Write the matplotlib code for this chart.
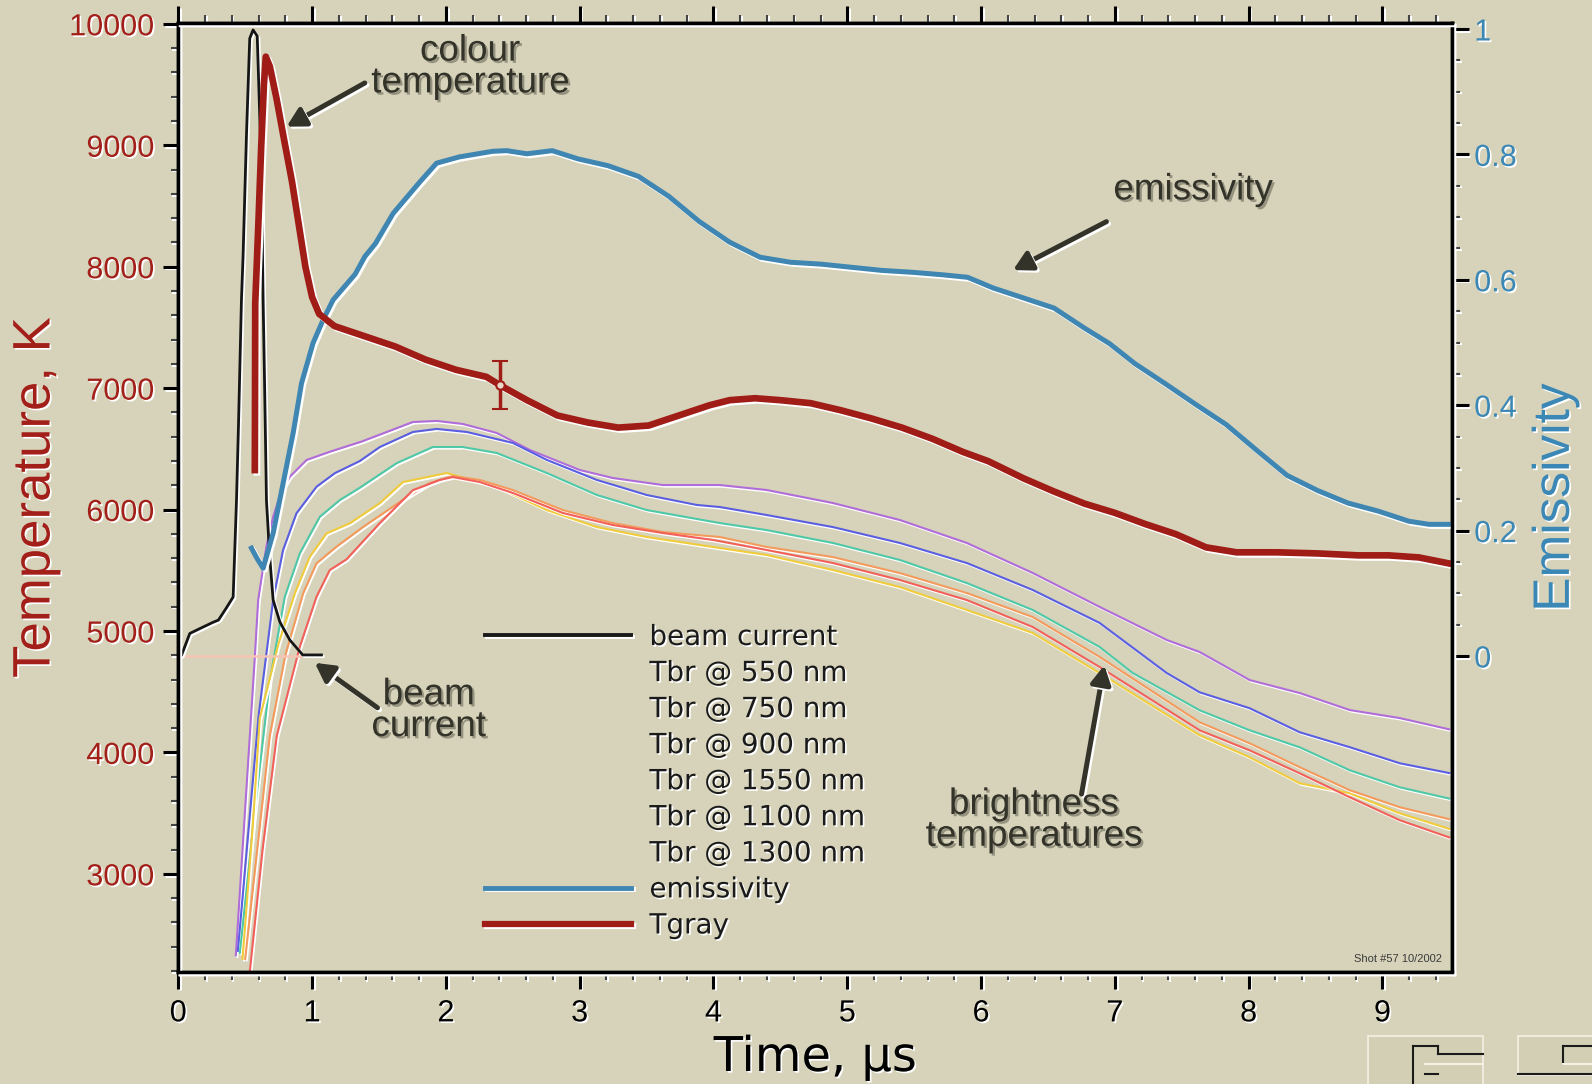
import matplotlib
matplotlib.use("Agg")
import matplotlib.pyplot as plt
import matplotlib.patheffects as pe
from matplotlib.lines import Line2D
from matplotlib.patches import Rectangle
from matplotlib.ticker import MultipleLocator, FixedLocator

# ---------------- data ----------------
t_beam = [0.0, 0.024, 0.086, 0.18, 0.258, 0.30, 0.362, 0.41, 0.435, 0.45,
          0.472, 0.484, 0.51, 0.534, 0.559, 0.59, 0.605, 0.62, 0.634, 0.647,
          0.659, 0.684, 0.709, 0.759, 0.833, 0.93, 1.07]
T_beam = [4790, 4800, 4980, 5030, 5071, 5090, 5195, 5280, 6075, 6700,
          7726, 8083, 9100, 9880, 9950, 9900, 9373, 8824, 7726, 6900,
          6075, 5600, 5255, 5075, 4927, 4803, 4803]
t_base = [0.0, 0.93]
T_base = [4798, 4798]

t_gray = [0.572, 0.575, 0.60, 0.62, 0.64, 0.654, 0.684, 0.735, 0.79, 0.85,
          0.90, 0.95, 1.0, 1.053, 1.167, 1.394, 1.621, 1.848, 2.076, 2.303,
          2.402, 2.606, 2.833, 3.061, 3.288, 3.515, 3.742, 3.97, 4.121, 4.311,
          4.5, 4.727, 4.955, 5.182, 5.409, 5.636, 5.864, 6.053, 6.318, 6.545,
          6.773, 7.0, 7.227, 7.455, 7.682, 7.909, 8.212, 8.515, 8.818, 9.045,
          9.273, 9.5]
T_gray = [6325, 7700, 8400, 9000, 9500, 9730, 9650, 9380, 9050, 8700,
          8350, 8000, 7750, 7611, 7511, 7427, 7343, 7235, 7151, 7093,
          7026, 6901, 6775, 6717, 6675, 6692, 6775, 6859, 6901, 6917,
          6901, 6876, 6817, 6750, 6675, 6583, 6475, 6399, 6257, 6149,
          6049, 5973, 5881, 5798, 5689, 5648, 5648, 5639, 5623, 5623,
          5606, 5556]
err_t = [2.402]
err_T = [7026]
err_dT = [200]

t_emis = [0.547, 0.59, 0.634, 0.709, 0.783, 0.858, 0.921, 1.007, 1.082, 1.157,
          1.322, 1.394, 1.474, 1.606, 1.805, 1.93, 2.1, 2.35, 2.455, 2.606,
          2.795, 2.985, 3.212, 3.439, 3.667, 3.894, 4.121, 4.348, 4.576, 4.803,
          5.03, 5.258, 5.485, 5.712, 5.9, 6.09, 6.318, 6.545, 6.773, 6.962,
          7.152, 7.379, 7.606, 7.833, 8.061, 8.288, 8.515, 8.742, 8.97, 9.197,
          9.348, 9.5]
emis = [0.172, 0.155, 0.140, 0.196, 0.275, 0.355, 0.435, 0.499, 0.536, 0.568,
        0.609, 0.637, 0.658, 0.706, 0.756, 0.786, 0.796, 0.805, 0.806, 0.801,
        0.806, 0.793, 0.782, 0.765, 0.733, 0.693, 0.66, 0.636, 0.628, 0.625,
        0.62, 0.615, 0.612, 0.608, 0.604, 0.587, 0.571, 0.555, 0.523, 0.498,
        0.466, 0.434, 0.401, 0.369, 0.328, 0.288, 0.264, 0.244, 0.231, 0.215,
        0.21, 0.21]

t_550 = [0.43, 0.50, 0.57, 0.597, 0.659, 0.709, 0.77, 0.833, 0.958, 1.132,
         1.37, 1.753, 1.932, 2.126, 2.38, 2.627, 3.0, 3.247, 3.621, 4.047,
         4.398, 4.892, 5.393, 5.893, 6.386, 6.887, 7.388, 7.634, 8.008, 8.382,
         8.756, 9.129, 9.5]
T_550 = [2330, 3540, 4750, 5255, 5700, 5941, 6150, 6270, 6408, 6476,
         6560, 6721, 6730, 6705, 6631, 6491, 6326, 6260, 6202, 6202,
         6161, 6054, 5914, 5725, 5478, 5198, 4926, 4827, 4596, 4489,
         4349, 4283, 4190]

t_750 = [0.445, 0.52, 0.60, 0.709, 0.783, 0.883, 1.033, 1.17, 1.357, 1.506,
         1.753, 1.932, 2.156, 2.5, 2.754, 3.128, 3.501, 3.875, 4.047, 4.398,
         4.892, 5.393, 5.893, 6.386, 6.887, 7.388, 7.634, 8.008, 8.382, 8.756,
         9.129, 9.5]
T_750 = [2366, 3300, 4300, 5255, 5666, 5969, 6188, 6300, 6400, 6515,
         6639, 6664, 6639, 6549, 6409, 6244, 6120, 6038, 6021, 5955,
         5856, 5725, 5560, 5338, 5066, 4654, 4495, 4364, 4166, 4043,
         3911, 3830]

t_900 = [0.46, 0.58, 0.684, 0.796, 0.908, 1.058, 1.207, 1.357, 1.633, 1.902,
         2.126, 2.38, 2.754, 3.128, 3.501, 4.047, 4.398, 4.892, 5.393, 5.893,
         6.386, 6.887, 7.134, 7.634, 8.008, 8.382, 8.756, 9.129, 9.5]
T_900 = [2350, 3600, 4589, 5282, 5639, 5941, 6078, 6180, 6383, 6515,
         6515, 6466, 6301, 6120, 5996, 5889, 5831, 5725, 5585, 5395,
         5173, 4868, 4654, 4347, 4182, 4042, 3853, 3713, 3620]

t_1550 = [0.48, 0.557, 0.609, 0.75, 0.871, 0.983, 1.108, 1.282, 1.506, 1.678,
          2.007, 2.38, 2.754, 3.128, 3.501, 3.995, 4.398, 4.892, 5.393, 5.893,
          6.386, 6.887, 7.634, 8.008, 8.382, 8.756, 9.129, 9.5]
T_1550 = [2300, 3400, 4282, 4900, 5310, 5612, 5804, 5887, 6053, 6226,
          6301, 6186, 5996, 5856, 5774, 5692, 5626, 5502, 5362, 5173,
          4984, 4654, 4141, 3960, 3746, 3664, 3499, 3370]

t_1100 = [0.50, 0.60, 0.684, 0.80, 0.933, 1.033, 1.182, 1.379, 1.708, 1.88,
          2.051, 2.253, 2.5, 2.874, 3.247, 3.621, 4.047, 4.398, 4.892, 5.393,
          5.893, 6.386, 6.887, 7.634, 8.008, 8.382, 8.756, 9.129, 9.5]
T_1100 = [2300, 3300, 4137, 4800, 5310, 5557, 5694, 5855, 6102, 6218,
          6276, 6244, 6161, 5996, 5889, 5815, 5774, 5692, 5609, 5477,
          5313, 5115, 4786, 4248, 4075, 3878, 3689, 3549, 3450]

t_1300 = [0.534, 0.63, 0.736, 0.908, 1.033, 1.132, 1.257, 1.506, 1.753, 1.955,
          2.051, 2.253, 2.5, 2.874, 3.247, 3.621, 3.995, 4.398, 4.892, 5.393,
          5.893, 6.386, 6.887, 7.634, 8.008, 8.382, 8.756, 9.129, 9.5]
T_1300 = [2190, 3200, 4137, 4870, 5282, 5502, 5590, 5888, 6160, 6244,
          6268, 6227, 6137, 5972, 5873, 5807, 5750, 5667, 5560, 5420,
          5255, 5033, 4703, 4182, 4017, 3828, 3631, 3442, 3300]

tbr_series = [
    ("Tbr @ 550 nm", t_550, T_550, "#b06cd8"),
    ("Tbr @ 750 nm", t_750, T_750, "#5a5ee0"),
    ("Tbr @ 900 nm", t_900, T_900, "#4ec8a6"),
    ("Tbr @ 1550 nm", t_1550, T_1550, "#f0cc3c"),
    ("Tbr @ 1100 nm", t_1100, T_1100, "#f39a5c"),
    ("Tbr @ 1300 nm", t_1300, T_1300, "#f2605a"),
]

x_ticks = [0, 1, 2, 3, 4, 5, 6, 7, 8, 9]
T_ticks = [3000, 4000, 5000, 6000, 7000, 8000, 9000, 10000]
e_ticks = [0, 0.2, 0.4, 0.6, 0.8, 1.0]
e_tick_labels = ["0", "0.2", "0.4", "0.6", "0.8", "1"]

# ---------------- style ----------------
BG = "#d6d3ba"
RED = "#a01c16"
TRED = "#a3201a"
BLUE = "#3f86b2"
TBLUE = "#3b87b5"
INK = "#34332a"
SANS = ["Liberation Sans", "DejaVu Sans"]
LEG = ["DejaVu Sans"]

W, H = 1592, 1084


def fx(px):
    return px / W


def fy(py):
    return 1 - py / H


def lsh(o=1.3):
    return [pe.SimpleLineShadow(offset=(o, -o), shadow_color="white", alpha=1.0), pe.Normal()]


tsh = [pe.withSimplePatchShadow(offset=(1.2, -1.2), shadow_rgbFace="white", alpha=1.0)]
dsh = [pe.withSimplePatchShadow(offset=(1.6, -1.6), shadow_rgbFace="#1e1d14", alpha=0.35)]

fig = plt.figure(figsize=(W / 100, H / 100), dpi=100)
fig.patch.set_facecolor(BG)

ax = fig.add_axes([fx(178.3), fy(972), fx(1452) - fx(178.3), (972 - 23) / H])
ax.set_facecolor(BG)
ax2 = ax.twinx()

# Tbr lines
for lab, tt, TT, col in tbr_series:
    ax.plot(tt, TT, color=col, lw=1.5, zorder=2, path_effects=lsh(1.1))

# beam current
ax.plot(t_base, T_base, color="#f6c4b4", lw=1.8, zorder=2)
ax.plot(t_beam, T_beam, color="#151515", lw=2.0, zorder=3, path_effects=lsh(1.2))

# emissivity (right scale)
ax.plot(t_emis, emis, color=BLUE, lw=3.6, zorder=4, transform=ax2.transData,
        path_effects=lsh(1.5), solid_joinstyle="round")

# Tgray
ax.plot(t_gray, T_gray, color=RED, lw=4.8, zorder=5, path_effects=lsh(1.5),
        solid_joinstyle="round")
ax.errorbar(err_t, err_T, yerr=err_dT, fmt="o", ms=6, mfc="#e8d8c8", mec=RED, mew=1.5,
            ecolor=RED, elinewidth=2.5, capsize=5.5, capthick=2.5, zorder=6)

ax.set_xlim(0, 9.52)
ax.set_ylim(2192, 10007)
ax2.set_ylim(-0.504, 1.0096)

# ticks
ax.set_xticks(x_ticks)
ax.set_xticklabels([str(v) for v in x_ticks], fontsize=22, family=SANS, color="black")
ax.xaxis.set_minor_locator(MultipleLocator(0.2))
ax.set_yticks(T_ticks)
ax.set_yticklabels([str(v) for v in T_ticks], fontsize=22, family=SANS, color=TRED)
ax.yaxis.set_minor_locator(MultipleLocator(200))
ax.tick_params(axis="x", which="both", top=True, bottom=True, direction="out", labeltop=False)
ax.tick_params(axis="x", which="major", length=12, width=2.2, pad=7)
ax.tick_params(axis="x", which="minor", length=6, width=1.5, color="#444444")
ax.tick_params(axis="y", which="major", length=11, width=2.2, pad=6)
ax.tick_params(axis="y", which="minor", length=5.5, width=1.5, color="#444444")
ax.tick_params(axis="y", which="both", right=False)

ax2.set_yticks(e_ticks)
ax2.set_yticklabels(e_tick_labels, fontsize=22, family=SANS, color=TBLUE)
ax2.yaxis.set_minor_locator(FixedLocator([i * 0.05 for i in range(21) if i % 4 != 0]))
ax2.tick_params(axis="y", which="major", length=12, width=2.2, pad=4, direction="out")
ax2.tick_params(axis="y", which="minor", length=6, width=1.5, color="#444444", direction="out")

for a in (ax, ax2):
    for s in a.spines.values():
        s.set_linewidth(2.5)
        s.set_color("black")
        s.set_path_effects(lsh(1.3))

# axis labels
fig.text(0.0223, 0.541, "Temperature, K", rotation=90, ha="center", va="center",
         fontsize=38, color=TRED, family=SANS, path_effects=tsh)
fig.text(0.977, 0.541, "Emissivity", rotation=90, ha="center", va="center",
         fontsize=37, color=TBLUE, family=SANS, path_effects=tsh)
fig.text(0.512, 0.012, "Time, µs", ha="center", va="baseline",
         fontsize=34.5, color="black", family=LEG, path_effects=tsh)

# annotations
arrow_kw = dict(arrowstyle="-|>,head_length=0.55,head_width=0.3", lw=3.6, color=INK,
                shrinkA=0, shrinkB=0, mutation_scale=20)
for txt, cx, cy, tail, head in [
    ("colour\ntemperature", 470, 67, (1.394, 9513), (0.809, 9153)),
    ("emissivity", 1193, 190, (6.937, 8371), (6.239, 7972)),
    ("beam\ncurrent", 428.5, 710.7, (1.489, 4368), (1.020, 4738)),
    ("brightness\ntemperatures", 1033.6, 820.4, (6.751, 3657), (6.921, 4718)),
]:
    fig.text(fx(cx), fy(cy), txt, ha="center", va="center", fontsize=26.5, color=INK,
             family=SANS, linespacing=0.88, path_effects=dsh)
    a = ax.annotate("", xy=head, xytext=tail, xycoords="data", textcoords="data",
                    arrowprops=arrow_kw, zorder=7)
    a.arrow_patch.set_path_effects(lsh(1.5))

# legend
handles = [Line2D([], [], color="#1a1a1a", lw=2.8)]
labels = ["beam current"]
for lab, tt, TT, col in tbr_series:
    handles.append(Line2D([], [], color="none", lw=0))
    labels.append(lab)
handles += [Line2D([], [], color=BLUE, lw=3.5), Line2D([], [], color=RED, lw=4.5)]
labels += ["emissivity", "Tgray"]
leg = ax.legend(handles, labels, loc="upper left", bbox_to_anchor=(fx(485), fy(623)),
                bbox_transform=fig.transFigure, frameon=False, borderpad=0,
                borderaxespad=0, handlelength=5.25, handletextpad=0.67,
                labelspacing=0.29, prop={"family": LEG, "size": 20})
for tx in leg.get_texts():
    tx.set_color("#1a1a1a")
    tx.set_path_effects(tsh)
for ln in leg.get_lines():
    ln.set_path_effects(lsh(1.3))
leg.set_zorder(8)

fig.text(fx(1442), fy(959), "Shot #57 10/2002", ha="right", va="center", fontsize=8,
         color="#3a3a3a", family=SANS)

# corner logo (decoration)
for x0, y0, x1, y1 in [(1368, 1036, 1483, 1090), (1518, 1036, 1600, 1075)]:
    fig.add_artist(Rectangle((fx(x0), fy(y1)), fx(x1) - fx(x0), (y1 - y0) / H,
                             transform=fig.transFigure, facecolor="#d2cfb5",
                             edgecolor="#f3f1e4", lw=1.2))
for xs, ys, c in [((1413, 1438), (1046, 1046), "#1a1a1a"), ((1413, 1413), (1046, 1084), "#1a1a1a"),
                  ((1438, 1483), (1054, 1054), "#1a1a1a"), ((1438, 1438), (1046, 1054), "#1a1a1a"),
                  ((1425, 1483), (1064, 1064), "#f3f1e4"), ((1425, 1438), (1074, 1074), "#1a1a1a"),
                  ((1563, 1592), (1046, 1046), "#1a1a1a"), ((1563, 1563), (1046, 1064), "#1a1a1a"),
                  ((1563, 1592), (1064, 1064), "#f3f1e4"), ((1518, 1592), (1074, 1074), "#1a1a1a")]:
    fig.add_artist(Line2D([fx(xs[0]), fx(xs[1])], [fy(ys[0]), fy(ys[1])],
                          transform=fig.transFigure, color=c, lw=1.5))

# shadows on ticks
fig.canvas.draw()
for a in (ax, ax2):
    for axis in (a.xaxis, a.yaxis):
        for tk in axis.get_major_ticks() + axis.get_minor_ticks():
            tk.tick1line.set_path_effects(lsh(1.2))
            tk.tick2line.set_path_effects(lsh(1.2))
            tk.label1.set_path_effects(tsh)
            tk.label2.set_path_effects(tsh)

fig.savefig("out.png", dpi=100, facecolor=BG)
